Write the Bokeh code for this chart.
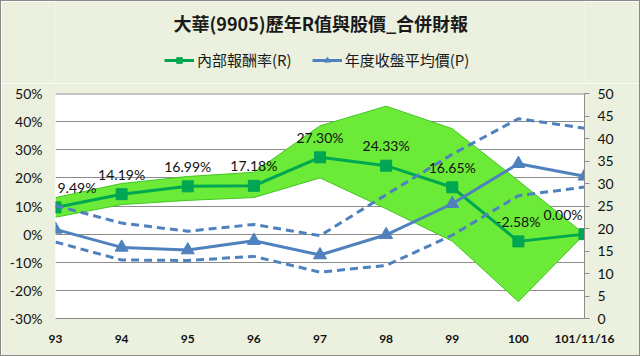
from bokeh.plotting import figure
from bokeh.layouts import column
from bokeh.models import (Range1d, LinearAxis, FixedTicker, NumeralTickFormatter,
                          Legend, LegendItem, ColumnDataSource, CDSView, IndexFilter, Span)
from bokeh.core.properties import value
from bokeh.embed import file_html
from bokeh.resources import INLINE

# ---- data ----
years = ["93", "94", "95", "96", "97", "98", "99", "100", "101/11/16"]
r_pct = [9.49, 14.19, 16.99, 17.18, 27.30, 24.33, 16.65, -2.58, 0.00]
r_upper = [13.0, 18.0, 20.5, 22.0, 38.5, 45.5, 37.5, 19.0, 0.0]
r_lower = [6.0, 10.5, 12.0, 13.0, 20.0, 9.0, -2.5, -24.0, 0.0]
price_avg = [19.8, 15.8, 15.2, 17.3, 14.1, 18.6, 25.5, 34.4, 31.6]
price_upper = [25.1, 21.2, 19.4, 20.9, 18.4, 27.5, 36.5, 44.4, 42.3]
price_lower = [17.0, 13.0, 12.9, 13.8, 10.3, 11.8, 18.5, 27.3, 29.2]
left_ticks = [-0.3, -0.2, -0.1, 0.0, 0.1, 0.2, 0.3, 0.4, 0.5]
right_ticks = [0, 5, 10, 15, 20, 25, 30, 35, 40, 45, 50]
title_text = "大華(9905)歷年R值與股價_合併財報"
legend_r = "內部報酬率(R)"
legend_p = "年度收盤平均價(P)"

xs = list(range(len(years)))
n = len(years)
src = ColumnDataSource(dict(
    x=xs,
    r=[v / 100 for v in r_pct],
    ru=[v / 100 for v in r_upper],
    rl=[v / 100 for v in r_lower],
    p=price_avg, pu=price_upper, pl=price_lower,
    lab=[f"{v:.2f}%" for v in r_pct],
))

GREEN = "#00A651"
BAND = "#6BEB38"
BLUE = "#4F81BD"
GRID = "#8C8C8C"
BG = "#EBF1DE"
CJK = "Noto Sans CJK TC"
NUM = "Lato"
W = 638
HEAD_H = 82

# ---------- header (title + legend) ----------
ph = figure(width=W, height=HEAD_H, output_backend="svg", toolbar_location=None,
            x_range=Range1d(0, W), y_range=Range1d(0, HEAD_H),
            x_axis_location=None, y_axis_location=None,
            min_border=0)
ph.grid.visible = False
ph.outline_line_color = None
ph.background_fill_color = BG
ph.border_fill_color = BG
ph.text(x=[W / 2 + 1], y=[HEAD_H - 21], text=[title_text], text_align="center",
        text_baseline="middle", text_font=value(CJK), text_font_size="18px",
        text_font_style="bold", text_color="#1a1a1a")
# legend swatches (same styles as the chart's series; hidden off-range point)
hl_g = ph.line(x=[-50, -40], y=[-50, -50], line_color=GREEN, line_width=3)
hm_g = ph.scatter(x=[-50], y=[-50], marker="square", size=11, fill_color=GREEN, line_color=GREEN)
hl_b = ph.line(x=[-50, -40], y=[-50, -50], line_color=BLUE, line_width=3)
hm_b = ph.scatter(x=[-50], y=[-50], marker="triangle", size=13, fill_color=BLUE, line_color=BLUE)
legend = Legend(items=[LegendItem(label=legend_r, renderers=[hl_g, hm_g]),
                       LegendItem(label=legend_p, renderers=[hl_b, hm_b])],
                orientation="horizontal", location=(109, 13))
legend.background_fill_alpha = 0
legend.border_line_color = None
legend.label_text_font = CJK
legend.label_text_font_size = "15px"
legend.label_text_color = "#1a1a1a"
legend.glyph_width = 30
legend.glyph_height = 14
legend.spacing = 20
legend.label_standoff = 3
legend.padding = 4
legend.margin = 0
ph.add_layout(legend, "center")

# ---------- main chart ----------
p = figure(width=W, height=354 - HEAD_H, output_backend="svg", toolbar_location=None,
           x_range=Range1d(0, n - 1), y_range=Range1d(-0.3, 0.5),
           min_border_left=54, min_border_right=55, min_border_top=10,
           min_border_bottom=37)
p.extra_y_ranges = {"price": Range1d(0, 50)}
p.border_fill_color = BG
p.background_fill_color = "white"
p.outline_line_color = None

# left axis
ya = p.yaxis[0]
ya.ticker = FixedTicker(ticks=left_ticks)
ya.formatter = NumeralTickFormatter(format="0%")
ya.axis_line_color = None
ya.major_tick_line_color = None
ya.minor_tick_line_color = None
ya.major_tick_out = 0
ya.major_tick_in = 0
ya.major_label_standoff = 13
ya.major_label_text_font = NUM
ya.major_label_text_font_size = "14px"
ya.major_label_text_color = "#111111"

p.ygrid.ticker = FixedTicker(ticks=left_ticks)
p.ygrid.grid_line_color = GRID
p.xgrid.grid_line_color = None
p.add_layout(Span(location=left_ticks[-1], dimension="width", line_color=GRID, line_width=2))

# bottom axis
xa = p.xaxis[0]
xa.ticker = FixedTicker(ticks=xs)
xa.major_label_overrides = {i: y for i, y in enumerate(years)}
xa.axis_line_color = GRID
xa.major_tick_line_color = None
xa.minor_tick_line_color = None
xa.major_tick_out = 0
xa.major_tick_in = 0
xa.major_label_standoff = 12
xa.major_label_text_font = NUM
xa.major_label_text_font_size = "12px"
xa.major_label_text_font_style = "bold"
xa.major_label_text_color = "#111111"

# right axis
ra = LinearAxis(y_range_name="price", ticker=FixedTicker(ticks=right_ticks))
ra.axis_line_color = GRID
ra.major_tick_line_color = GRID
ra.minor_tick_line_color = None
ra.major_tick_out = 5
ra.major_tick_in = 0
ra.major_label_standoff = 8
ra.major_label_text_font = NUM
ra.major_label_text_font_size = "14px"
ra.major_label_text_color = "#111111"
p.add_layout(ra, "right")

# green band
p.varea(x="x", y1="rl", y2="ru", source=src, fill_color=BAND)
p.line(x="x", y="ru", source=src, line_color="#45C425", line_width=1)
p.line(x="x", y="rl", source=src, line_color="#45C425", line_width=1)

# R line
p.line(x="x", y="r", source=src, line_color=GREEN, line_width=3)
p.scatter(x="x", y="r", source=src, marker="square", size=11,
          fill_color=GREEN, line_color=GREEN)

# price lines
p.line(x="x", y="pu", source=src, y_range_name="price", line_color=BLUE,
       line_width=3, line_dash="8 5")
p.line(x="x", y="pl", source=src, y_range_name="price", line_color=BLUE,
       line_width=3, line_dash="8 5")
p.line(x="x", y="p", source=src, y_range_name="price", line_color=BLUE,
       line_width=3)
p.scatter(x="x", y="p", source=src, y_range_name="price", marker="triangle",
          size=13, fill_color=BLUE, line_color=BLUE)

# data labels (end labels kept inside the plot area)
lab_kw = dict(x="x", y="r", text="lab", source=src, text_baseline="middle",
              y_offset=-20, text_font=value(NUM), text_font_size="14px",
              text_color="#111111")
p.text(view=CDSView(filter=IndexFilter(indices=[0])), text_align="left",
       x_offset=2, **lab_kw)
p.text(view=CDSView(filter=IndexFilter(indices=list(range(1, n - 1)))),
       text_align="center", **lab_kw)
p.text(view=CDSView(filter=IndexFilter(indices=[n - 1])), text_align="right",
       x_offset=-2, **lab_kw)

layout = column(ph, p, spacing=0)
layout.styles = {"border": "1px solid #8A8A8A"}

open("out.html", "w").write(file_html(layout, INLINE))
